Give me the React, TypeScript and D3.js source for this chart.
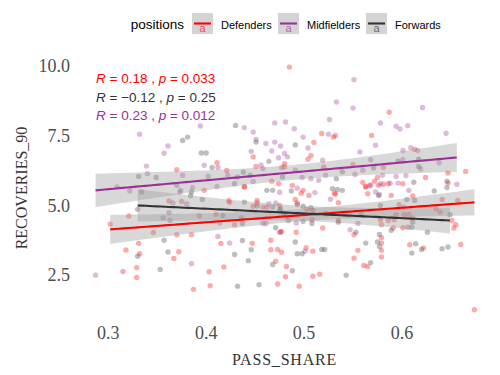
import React from "react";
import * as d3 from "d3";

// ---------- data ----------
const positions = ["Defenders", "Midfielders", "Forwards"];
const lineColors = ["#FF0000", "#9B3096", "#333333"];
const pointColors = ["#FF2020", "#A24CA0", "#555555"];

const xTicks = [0.3, 0.4, 0.5, 0.6];
const yTicks = [2.5, 5.0, 7.5, 10.0];
const xTickLabels = ["0.3", "0.4", "0.5", "0.6"];
const yTickLabels = ["2.5", "5.0", "7.5", "10.0"];

const defenders: [number, number][] = [
  [0.485, 9.97], [0.448, 6.75], [0.451, 6.41], [0.48, 6.39], [0.411, 6.54], [0.37, 6.29], [0.421, 6.26],
  [0.439, 5.69], [0.587, 8.35], [0.518, 7.59], [0.532, 7.52], [0.53, 7.46], [0.569, 7.52], [0.51, 7.27],
  [0.613, 7.02], [0.507, 6.8], [0.504, 6.67], [0.48, 6.51], [0.52, 6.39], [0.55, 6.47], [0.581, 6.38],
  [0.624, 6.01], [0.647, 6.17], [0.665, 6.23], [0.575, 6.01], [0.572, 5.88], [0.56, 5.83], [0.563, 5.69],
  [0.586, 5.79], [0.576, 5.73], [0.601, 5.79], [0.647, 5.81], [0.488, 5.73], [0.398, 5.55], [0.439, 5.67],
  [0.467, 5.88], [0.474, 5.79], [0.362, 5.17], [0.375, 5.15], [0.321, 4.63], [0.302, 4.34], [0.393, 4.63],
  [0.41, 4.69], [0.423, 5.19], [0.424, 5.12], [0.448, 4.98], [0.452, 5.19], [0.452, 5.1], [0.458, 4.95],
  [0.462, 4.95], [0.475, 5.01], [0.477, 4.08], [0.429, 4.32], [0.346, 4.04], [0.37, 3.96], [0.385, 3.96],
  [0.415, 3.65], [0.447, 3.65], [0.331, 3.65], [0.318, 3.41], [0.332, 3.28], [0.372, 3.35], [0.367, 3.11],
  [0.466, 3.76], [0.466, 3.42], [0.473, 3.43], [0.477, 3.33], [0.471, 3.01], [0.482, 2.82], [0.481, 2.45],
  [0.418, 2.8], [0.403, 2.63], [0.329, 2.78], [0.315, 2.64], [0.329, 2.43], [0.387, 2.0], [0.404, 2.13],
  [0.473, 2.19], [0.499, 5.55], [0.497, 5.45], [0.505, 5.37], [0.531, 5.45], [0.532, 5.41], [0.535, 5.11],
  [0.563, 5.67], [0.568, 5.74], [0.581, 5.77], [0.565, 5.43], [0.589, 5.37], [0.611, 5.35], [0.641, 5.22],
  [0.657, 5.19], [0.491, 5.22], [0.493, 5.1], [0.503, 4.87], [0.509, 4.83], [0.479, 4.71], [0.493, 4.65],
  [0.508, 4.5], [0.519, 4.2], [0.535, 4.47], [0.578, 4.5], [0.579, 4.32], [0.586, 4.47], [0.594, 4.68],
  [0.592, 4.5], [0.597, 5.04], [0.602, 4.68], [0.611, 4.56], [0.607, 4.69], [0.601, 4.21], [0.606, 4.23],
  [0.591, 4.2], [0.635, 4.89], [0.639, 4.77], [0.651, 4.47], [0.655, 4.32], [0.653, 4.2], [0.492, 4.05],
  [0.551, 3.96], [0.579, 3.85], [0.476, 4.05], [0.502, 3.49], [0.509, 3.37], [0.579, 3.66], [0.579, 3.4],
  [0.555, 3.4], [0.551, 3.12], [0.608, 3.6], [0.622, 3.48], [0.66, 3.61], [0.579, 3.16], [0.561, 2.86],
  [0.565, 2.82], [0.509, 2.47], [0.516, 2.54], [0.495, 2.11], [0.674, 1.27],
];

const midfielders: [number, number][] = [
  [0.332, 7.56], [0.361, 7.14], [0.357, 6.88], [0.394, 7.86], [0.439, 7.8], [0.448, 7.64], [0.451, 7.38],
  [0.47, 7.97], [0.481, 8.0], [0.461, 7.23], [0.47, 7.28], [0.467, 6.96], [0.476, 7.14], [0.48, 6.87],
  [0.474, 6.72], [0.446, 6.95], [0.456, 6.45], [0.458, 6.33], [0.477, 6.37], [0.398, 6.45], [0.412, 6.37],
  [0.339, 6.42], [0.34, 6.15], [0.376, 6.09], [0.422, 6.09], [0.402, 6.05], [0.432, 6.03], [0.309, 5.67],
  [0.551, 9.52], [0.533, 8.72], [0.55, 8.5], [0.621, 8.52], [0.526, 8.09], [0.578, 7.97], [0.49, 7.76],
  [0.594, 7.85], [0.598, 7.75], [0.606, 7.87], [0.525, 7.56], [0.645, 7.6], [0.499, 7.46], [0.504, 7.07],
  [0.573, 7.17], [0.557, 6.93], [0.601, 6.98], [0.616, 6.98], [0.609, 7.08], [0.483, 6.75], [0.519, 6.63],
  [0.568, 6.65], [0.601, 6.65], [0.638, 6.54], [0.619, 6.32], [0.56, 6.27], [0.491, 6.27], [0.498, 6.01],
  [0.507, 5.97], [0.515, 5.91], [0.522, 6.09], [0.552, 6.12], [0.58, 6.09], [0.594, 6.05], [0.604, 6.08],
  [0.567, 5.72], [0.588, 5.81], [0.596, 5.81], [0.656, 5.77], [0.493, 5.63], [0.322, 5.53], [0.386, 5.65],
  [0.374, 5.55], [0.373, 5.48], [0.411, 5.69], [0.448, 5.87], [0.475, 5.48], [0.366, 5.1], [0.38, 5.07],
  [0.464, 5.07], [0.471, 5.1], [0.362, 4.75], [0.356, 4.56], [0.363, 4.47], [0.436, 4.57], [0.458, 4.36],
  [0.461, 4.36], [0.475, 4.05], [0.414, 4.38], [0.412, 3.9], [0.424, 3.66], [0.385, 2.92], [0.287, 2.51],
  [0.511, 5.47], [0.527, 5.23], [0.578, 5.79], [0.573, 5.49], [0.577, 5.4], [0.607, 5.55], [0.602, 4.95],
  [0.492, 4.38], [0.555, 4.36], [0.547, 4.14], [0.501, 3.37],
];

const forwards: [number, number][] = [
  [0.376, 7.34], [0.381, 7.46], [0.43, 7.88], [0.451, 7.28], [0.464, 6.59], [0.395, 6.89], [0.4, 6.89],
  [0.406, 6.37], [0.331, 6.05], [0.349, 6.01], [0.438, 6.2], [0.445, 6.09], [0.37, 5.73], [0.491, 7.18],
  [0.596, 6.6], [0.617, 6.67], [0.617, 6.41], [0.539, 6.22], [0.571, 6.35], [0.533, 5.97], [0.612, 5.84],
  [0.646, 5.88], [0.478, 6.03], [0.334, 5.49], [0.385, 5.49], [0.384, 5.36], [0.429, 5.79], [0.462, 5.55],
  [0.468, 5.55], [0.396, 5.22], [0.33, 4.87], [0.417, 4.65], [0.439, 5.13], [0.452, 4.99], [0.468, 4.95],
  [0.475, 4.83], [0.482, 4.62], [0.471, 4.21], [0.437, 4.36], [0.437, 3.75], [0.357, 3.76], [0.33, 3.19],
  [0.361, 3.34], [0.429, 3.25], [0.446, 3.42], [0.443, 3.03], [0.468, 2.89], [0.353, 2.71], [0.432, 2.11],
  [0.454, 2.17], [0.487, 5.53], [0.529, 5.61], [0.534, 5.58], [0.539, 5.55], [0.576, 5.37], [0.605, 5.22],
  [0.613, 5.19], [0.633, 5.53], [0.646, 5.65], [0.493, 5.04], [0.499, 4.98], [0.507, 4.93], [0.476, 4.89],
  [0.484, 4.47], [0.499, 4.44], [0.508, 4.36], [0.522, 4.71], [0.535, 4.41], [0.558, 4.74], [0.578, 5.01],
  [0.611, 4.41], [0.61, 4.23], [0.589, 4.12], [0.649, 4.68], [0.626, 4.05], [0.553, 4.05], [0.577, 3.97],
  [0.491, 3.7], [0.493, 3.28], [0.498, 3.28], [0.518, 3.43], [0.521, 3.43], [0.563, 3.66], [0.575, 3.7],
  [0.577, 3.54], [0.614, 3.64], [0.62, 3.43], [0.61, 3.3], [0.641, 3.46], [0.647, 3.52], [0.568, 2.96],
  [0.488, 2.67], [0.543, 2.51],
];

const seriesPoints = [defenders, midfielders, forwards];

// fitted values: at the group's min and max pass share
const fitStartY = [4.15, 5.55, 5.01];
const fitEndY = [5.12, 6.73, 4.47];
const ciStart = [0.52, 0.6, 0.58];
const ciEnd = [0.47, 0.52, 0.47];
const ciMin = [0.22, 0.27, 0.27];

// correlation labels (Defenders, Forwards, Midfielders order as shown)
const corOrder = [0, 2, 1];
const corR = ["0.18", "\u22120.12", "0.23"];
const corP = ["0.033", "0.25", "0.012"];

// ---------- layout ----------
const W = 500;
const H = 375;
const panel = { left: 75, right: 494, top: 54, bottom: 322 };

const x = d3.scaleLinear().domain([0.266, 0.694]).range([panel.left, panel.right]);
const y = d3.scaleLinear().domain([0.83, 10.44]).range([panel.bottom, panel.top]);

function fitBand(i: number) {
  const pts = seriesPoints[i];
  const [x0, x1] = d3.extent(pts, (d) => d[0]) as [number, number];
  const y0 = fitStartY[i];
  const y1 = fitEndY[i];
  const m = ciMin[i];
  const u0 = ciStart[i] ** 2 - m * m;
  const u1 = ciEnd[i] ** 2 - m * m;
  const s0 = Math.sqrt(u0);
  const s1 = Math.sqrt(u1);
  const xc = (x0 * s1 + x1 * s0) / (s0 + s1);
  const B = u0 / ((xc - x0) ** 2);
  const n = 80;
  return d3.range(n + 1).map((k) => {
    const xv = x0 + ((x1 - x0) * k) / n;
    const yh = y0 + ((y1 - y0) * (xv - x0)) / (x1 - x0);
    const hw = Math.sqrt(m * m + B * (xv - xc) ** 2);
    return { x: xv, y: yh, lo: yh - hw, hi: yh + hw };
  });
}

const area = d3
  .area<{ x: number; y: number; lo: number; hi: number }>()
  .x((d) => x(d.x))
  .y0((d) => y(d.lo))
  .y1((d) => y(d.hi));
const line = d3
  .line<{ x: number; y: number }>()
  .x((d) => x(d.x))
  .y((d) => y(d.y));

const legendKeysX = [192, 278, 366];

export default function App() {
  const bands = positions.map((_, i) => fitBand(i));
  const serif = "'Liberation Serif', 'DejaVu Serif', serif";
  const sans = "'Liberation Sans', Arial, sans-serif";
  return (
    <svg
      width={W}
      height={H}
      style={{ position: "absolute", left: 0, top: 0, background: "#fff" }}
    >
      <rect x={0} y={0} width={W} height={H} fill="#fff" />
      {/* points */}
      {seriesPoints.map((pts, i) => (
        <g key={"p" + i}>
          {pts.map((d, j) => (
            <circle
              key={j}
              cx={x(d[0])}
              cy={y(d[1])}
              r={2.7}
              fill={pointColors[i]}
              fillOpacity={0.38}
            />
          ))}
        </g>
      ))}
      {/* ribbons */}
      {bands.map((b, i) => (
        <path key={"r" + i} d={area(b) || ""} fill="#999999" fillOpacity={0.38} />
      ))}
      {/* lines */}
      {bands.map((b, i) => (
        <path key={"l" + i} d={line(b) || ""} fill="none" stroke={lineColors[i]} strokeWidth={2.1} />
      ))}
      {/* correlation labels */}
      {corOrder.map((si, k) => (
        <text
          key={"c" + k}
          x={96}
          y={83 + k * 18.5}
          fontFamily={sans}
          fontSize={13.5}
          fill={lineColors[si]}
        >
          <tspan fontStyle="italic">R</tspan>
          {" = " + corR[k] + " , "}
          <tspan fontStyle="italic">p</tspan>
          {" = " + corP[k]}
        </text>
      ))}
      {/* x ticks */}
      {xTicks.map((t, i) => (
        <text
          key={"xt" + i}
          x={x(t)}
          y={339}
          textAnchor="middle"
          fontFamily={serif}
          fontSize={18}
          fill="#4D4D4D"
        >
          {xTickLabels[i]}
        </text>
      ))}
      {/* y ticks */}
      {yTicks.map((t, i) => (
        <text
          key={"yt" + i}
          x={70}
          y={y(t) + 6}
          textAnchor="end"
          fontFamily={serif}
          fontSize={18}
          fill="#4D4D4D"
        >
          {yTickLabels[i]}
        </text>
      ))}
      {/* axis titles */}
      <text
        x={(panel.left + panel.right) / 2}
        y={365}
        textAnchor="middle"
        fontFamily={serif}
        fontSize={16}
        letterSpacing={0.8}
        fill="#333333"
      >
        PASS_SHARE
      </text>
      <text
        transform={`translate(27,${(panel.top + panel.bottom) / 2}) rotate(-90)`}
        textAnchor="middle"
        fontFamily={serif}
        fontSize={16}
        fill="#333333"
      >
        RECOVERIES_90
      </text>
      {/* legend */}
      <text x={184} y={29} textAnchor="end" fontFamily={sans} fontSize={13.5} fill="#000">
        positions
      </text>
      {positions.map((p, i) => (
        <g key={"lg" + i} transform={`translate(${legendKeysX[i]},13)`}>
          <rect x={0} y={0} width={21} height={21} fill="#D4D4D4" />
          <text x={10.5} y={19} textAnchor="middle" fontFamily={sans} fontSize={11} fill={lineColors[i]} fillOpacity={0.7}>
            a
          </text>
          <line x1={2} x2={19} y1={10.5} y2={10.5} stroke={lineColors[i]} strokeWidth={2.1} />
          <text x={29} y={15.5} fontFamily={sans} fontSize={11} fill="#000">
            {p}
          </text>
        </g>
      ))}
    </svg>
  );
}
